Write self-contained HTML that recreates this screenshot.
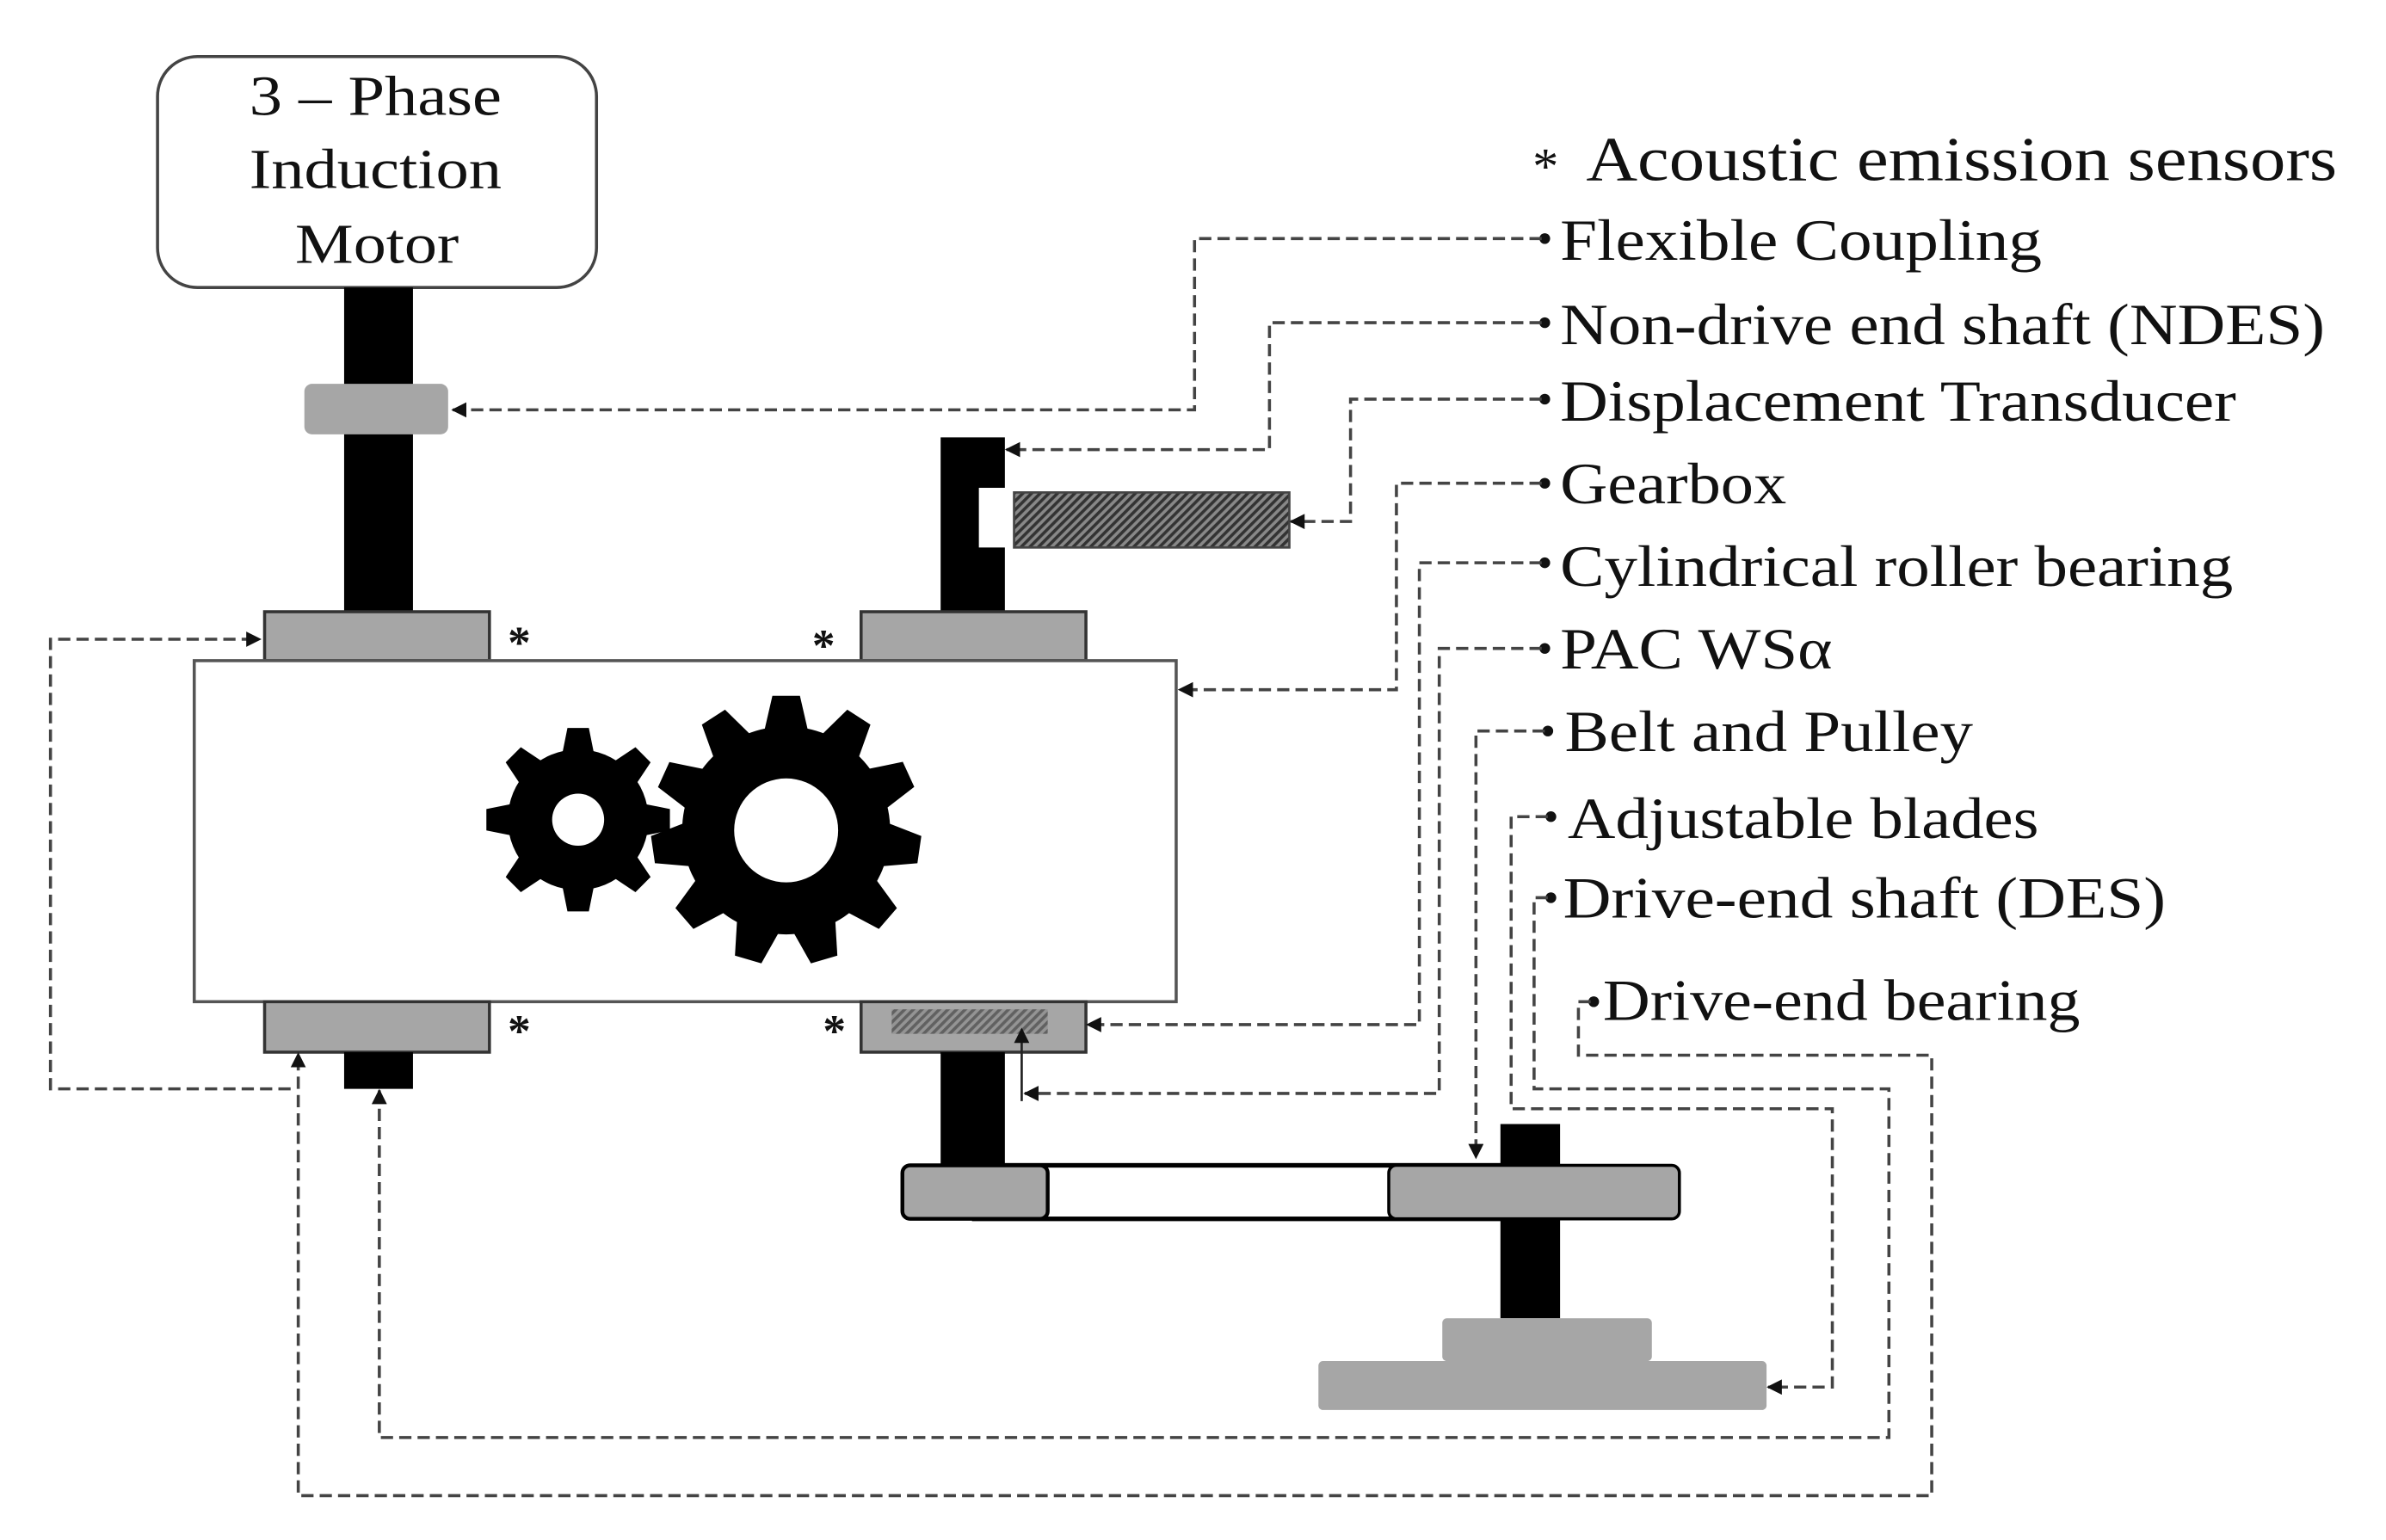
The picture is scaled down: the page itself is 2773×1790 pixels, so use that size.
<!DOCTYPE html>
<html><head><meta charset="utf-8"><style>
html,body{margin:0;padding:0;background:#fff}
svg{display:block}
text{font-family:"Liberation Serif",serif;fill:#111}
</style></head><body>
<svg width="2773" height="1790" viewBox="0 0 1560 1007" preserveAspectRatio="none" xmlns="http://www.w3.org/2000/svg">
<defs>
<pattern id="h" width="4" height="4" patternUnits="userSpaceOnUse" patternTransform="rotate(45)">
<rect width="4" height="4" fill="#888"/><rect width="2" height="4" fill="#333"/></pattern>
<marker id="a" markerWidth="10" markerHeight="10" refX="9" refY="5" orient="auto" markerUnits="userSpaceOnUse">
<path d="M0,0 L10,5 L0,10 z" fill="#111"/></marker>
</defs>
<!-- motor -->
<rect x="103" y="37" width="287" height="151" rx="26" fill="#fff" stroke="#444" stroke-width="2"/>
<g font-size="37" lengthAdjust="spacingAndGlyphs">
<text x="163" y="75" textLength="165" lengthAdjust="spacingAndGlyphs">3 – Phase</text>
<text x="163" y="123" textLength="165" lengthAdjust="spacingAndGlyphs">Induction</text>
<text x="193" y="172" textLength="107" lengthAdjust="spacingAndGlyphs">Motor</text>
</g>
<rect x="225" y="188" width="45" height="212" fill="#000"/>
<rect x="199" y="251" width="94" height="33" rx="5" fill="#a6a6a6"/>
<!-- NDES shaft -->
<path d="M615,286 H657 V319 H640 V358 H657 V400 H615 Z" fill="#000"/>
<rect x="663" y="322" width="180" height="36" fill="url(#h)" stroke="#444" stroke-width="1.5"/>
<!-- bearings top -->
<rect x="173" y="400" width="147" height="32" fill="#a6a6a6" stroke="#333" stroke-width="2"/>
<rect x="563" y="400" width="147" height="32" fill="#a6a6a6" stroke="#333" stroke-width="2"/>
<!-- gearbox -->
<rect x="127" y="432" width="642" height="223" fill="#fff" stroke="#555" stroke-width="2"/>
<g transform="translate(378,536)" fill="#000">
<circle r="46"/>
<g id="st"><polygon points="-11,-40 11,-40 7,-60 -7,-60"/></g>
<use href="#st" transform="rotate(45)"/><use href="#st" transform="rotate(90)"/><use href="#st" transform="rotate(135)"/>
<use href="#st" transform="rotate(180)"/><use href="#st" transform="rotate(225)"/><use href="#st" transform="rotate(270)"/><use href="#st" transform="rotate(315)"/>
<circle r="17" fill="#fff"/>
</g>
<g transform="translate(514,543)" fill="#000">
<circle r="68"/>
<g id="bt"><polygon points="-15,-62 15,-62 9,-88 -9,-88"/></g>
<use href="#bt" transform="rotate(32.7)"/><use href="#bt" transform="rotate(65.4)"/><use href="#bt" transform="rotate(98.2)"/>
<use href="#bt" transform="rotate(130.9)"/><use href="#bt" transform="rotate(163.6)"/><use href="#bt" transform="rotate(196.4)"/>
<use href="#bt" transform="rotate(229.1)"/><use href="#bt" transform="rotate(261.8)"/><use href="#bt" transform="rotate(294.5)"/><use href="#bt" transform="rotate(327.3)"/>
<circle r="34" fill="#fff"/>
</g>
<!-- bottom bearings -->
<rect x="173" y="655" width="147" height="33" fill="#a6a6a6" stroke="#333" stroke-width="2"/>
<rect x="563" y="655" width="147" height="33" fill="#a6a6a6" stroke="#333" stroke-width="2"/>
<rect x="583" y="660" width="102" height="16" fill="url(#h)" opacity="0.6"/>
<rect x="225" y="688" width="45" height="24" fill="#000"/>
<rect x="615" y="688" width="42" height="76" fill="#000"/>
<!-- pulleys -->
<rect x="981" y="735" width="39" height="127" fill="#000"/>
<rect x="637" y="762" width="363" height="35" fill="#fff" stroke="#000" stroke-width="3"/>
<rect x="590" y="762" width="95" height="35" rx="5" fill="#a6a6a6" stroke="#000" stroke-width="2.5"/>
<rect x="908" y="762" width="190" height="35" rx="5" fill="#a6a6a6" stroke="#000" stroke-width="2"/>
<rect x="943" y="862" width="137" height="28" rx="3" fill="#a6a6a6"/>
<rect x="862" y="890" width="293" height="32" rx="3" fill="#a6a6a6"/>
<!-- stars -->
<g font-size="30" font-weight="bold"><text x="332" y="430">*</text><text x="531" y="432">*</text><text x="332" y="684">*</text><text x="538" y="684">*</text></g>
<!-- labels -->
<text x="1002" y="120" font-size="34">*</text>
<text x="1037" y="118" font-size="41" textLength="491" lengthAdjust="spacingAndGlyphs">Acoustic emission sensors</text>
<g font-size="38">
<text x="1020" y="170" textLength="315" lengthAdjust="spacingAndGlyphs">Flexible Coupling</text>
<text x="1020" y="225" textLength="500" lengthAdjust="spacingAndGlyphs">Non-drive end shaft (NDES)</text>
<text x="1020" y="275" textLength="442" lengthAdjust="spacingAndGlyphs">Displacement Transducer</text>
<text x="1020" y="329" textLength="148" lengthAdjust="spacingAndGlyphs">Gearbox</text>
<text x="1020" y="383" textLength="440" lengthAdjust="spacingAndGlyphs">Cylindrical roller bearing</text>
<text x="1020" y="437" textLength="178" lengthAdjust="spacingAndGlyphs">PAC WSα</text>
<text x="1023" y="491" textLength="267" lengthAdjust="spacingAndGlyphs">Belt and Pulley</text>
<text x="1025" y="548" textLength="308" lengthAdjust="spacingAndGlyphs">Adjustable blades</text>
<text x="1022" y="600" textLength="394" lengthAdjust="spacingAndGlyphs">Drive-end shaft (DES)</text>
<text x="1048" y="667" textLength="312" lengthAdjust="spacingAndGlyphs">Drive-end bearing</text>
</g>
<g fill="#111"><circle cx="1010" cy="156" r="3.5"/><circle cx="1010" cy="211" r="3.5"/><circle cx="1010" cy="261" r="3.5"/><circle cx="1010" cy="316" r="3.5"/><circle cx="1010" cy="368" r="3.5"/><circle cx="1010" cy="424" r="3.5"/><circle cx="1012" cy="478" r="3.5"/><circle cx="1014" cy="534" r="3.5"/><circle cx="1014" cy="587" r="3.5"/><circle cx="1042" cy="655" r="3.5"/></g>
<!-- connectors -->
<g fill="none" stroke="#444" stroke-width="2" stroke-dasharray="8,4">
<path d="M1008,156 H781 V268 H296" marker-end="url(#a)"/>
<path d="M1008,211 H830 V294 H658" marker-end="url(#a)"/>
<path d="M1008,261 H883 V341 H844" marker-end="url(#a)"/>
<path d="M1008,316 H913 V451 H771" marker-end="url(#a)"/>
<path d="M1008,368 H928 V670 H711" marker-end="url(#a)"/>
<path d="M1008,424 H941 V715 H670" marker-end="url(#a)"/>
<path d="M1010,478 H965 V757" marker-end="url(#a)"/>
<path d="M1012,534 H988 V725 H1198 V907 H1156" marker-end="url(#a)"/>
<path d="M1012,587 H1003 V712 H1235 V940 H248 V713" marker-end="url(#a)"/>
<path d="M1040,655 H1032 V690 H1263 V978 H195 V689" marker-end="url(#a)"/>
<path d="M190,712 H33 V418 H170" marker-end="url(#a)"/>
</g>
<path d="M668,720 V673" stroke="#222" stroke-width="1.5" marker-end="url(#a)"/>
</svg>
</body></html>
